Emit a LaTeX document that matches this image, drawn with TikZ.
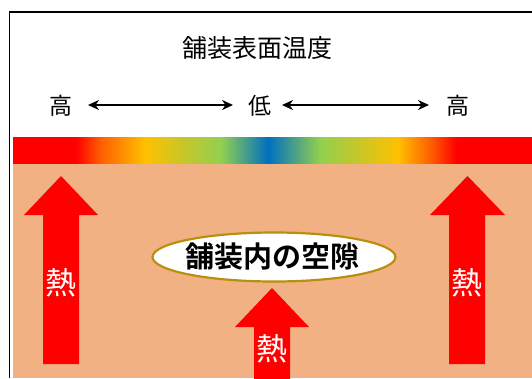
\documentclass[tikz,border=0pt]{standalone}
\usepackage{fontspec}
\newfontfamily\cjk{Noto Sans CJK JP}
\newfontfamily\cjkb{Noto Sans CJK JP Bold}
\usetikzlibrary{arrows.meta,shapes.geometric}
\definecolor{salmon}{HTML}{F2B183}
\definecolor{gold}{HTML}{B8900F}
\definecolor{hred}{HTML}{FF0000}
\definecolor{gOrange}{HTML}{FF6000}
\definecolor{gYel}{HTML}{FFC000}
\definecolor{gYG}{HTML}{C4C72A}
\definecolor{gGreen}{HTML}{92D050}
\definecolor{gBlue}{HTML}{0070C0}
\pgfdeclarehorizontalshading{tempbar}{100bp}{%
  color(0bp)=(hred); color(31.07bp)=(hred); color(33.48bp)=(gOrange);
  color(37.72bp)=(gYel); color(41.57bp)=(gYG); color(45.04bp)=(gGreen);
  color(49.57bp)=(gBlue); color(54.58bp)=(gGreen); color(58.04bp)=(gYG);
  color(62.09bp)=(gYel); color(65.17bp)=(gOrange); color(67.68bp)=(hred);
  color(100bp)=(hred)}
\tikzset{
  lbl/.style={font=\cjk\fontsize{23}{23}\selectfont, inner sep=0pt},
  heat/.style={font=\cjk\fontsize{31}{31}\selectfont, text=white, inner sep=0pt},
  bigarrow/.style={fill=hred, draw=none},
  dbl/.style={line width=1.8pt, {Stealth[length=11pt,width=10pt]}-{Stealth[length=11pt,width=10pt]}},
}
\begin{document}
\begin{tikzpicture}[x=1pt,y=-1pt]
\useasboundingbox (0,0) rectangle (532,378);
\fill[white] (0,0) rectangle (532,378);
% border
\draw[line width=1.3pt, black] (9.5,378) -- (9.5,12) -- (532,12);
% salmon area
\fill[salmon] (13,163) rectangle (532,378);
% gradient bar
\shade[shading=tempbar] (13,137) rectangle (532,163);
% title and scale
\node[font=\cjk\fontsize{25}{25}\selectfont, inner sep=0pt] (title) at (257,48) {舗装表面温度};
\node[lbl] (hl) at (61,106) {高};
\node[lbl] (lo) at (260,106) {低};
\node[lbl] (hr) at (458,106) {高};
\coordinate (a1) at (88,105);
\coordinate (a2) at (233,105);
\coordinate (a3) at (282,105);
\coordinate (a4) at (429,105);
\draw[dbl] (a1) -- (a2);
\draw[dbl] (a3) -- (a4);
% left big arrow
\fill[bigarrow] (43,364) -- (43,215) -- (24,215) -- (61,176) -- (98,215) -- (79,215) -- (79,364) -- cycle;
\node[heat] (hL) at (61,283) {熱};
% right big arrow
\fill[bigarrow] (449,364) -- (449,215) -- (430,215) -- (467.5,176) -- (505,215) -- (485,215) -- (485,364) -- cycle;
\node[heat] (hR) at (467,283) {熱};
% middle arrow
\fill[bigarrow] (254,380) -- (254,327) -- (235,327) -- (272,288) -- (309,327) -- (290,327) -- (290,380) -- cycle;
\node[heat] (hM) at (272,349) {熱};
% ellipse
\node[ellipse, draw=gold, line width=2.2pt, fill=white, minimum width=243pt, minimum height=49pt, inner sep=0pt] (void) at (274,257) {};
\node[font=\cjkb\fontsize{29}{29}\selectfont, inner sep=0pt] (voidtxt) at (272,257) {舗装内の空隙};
\end{tikzpicture}
\end{document}
